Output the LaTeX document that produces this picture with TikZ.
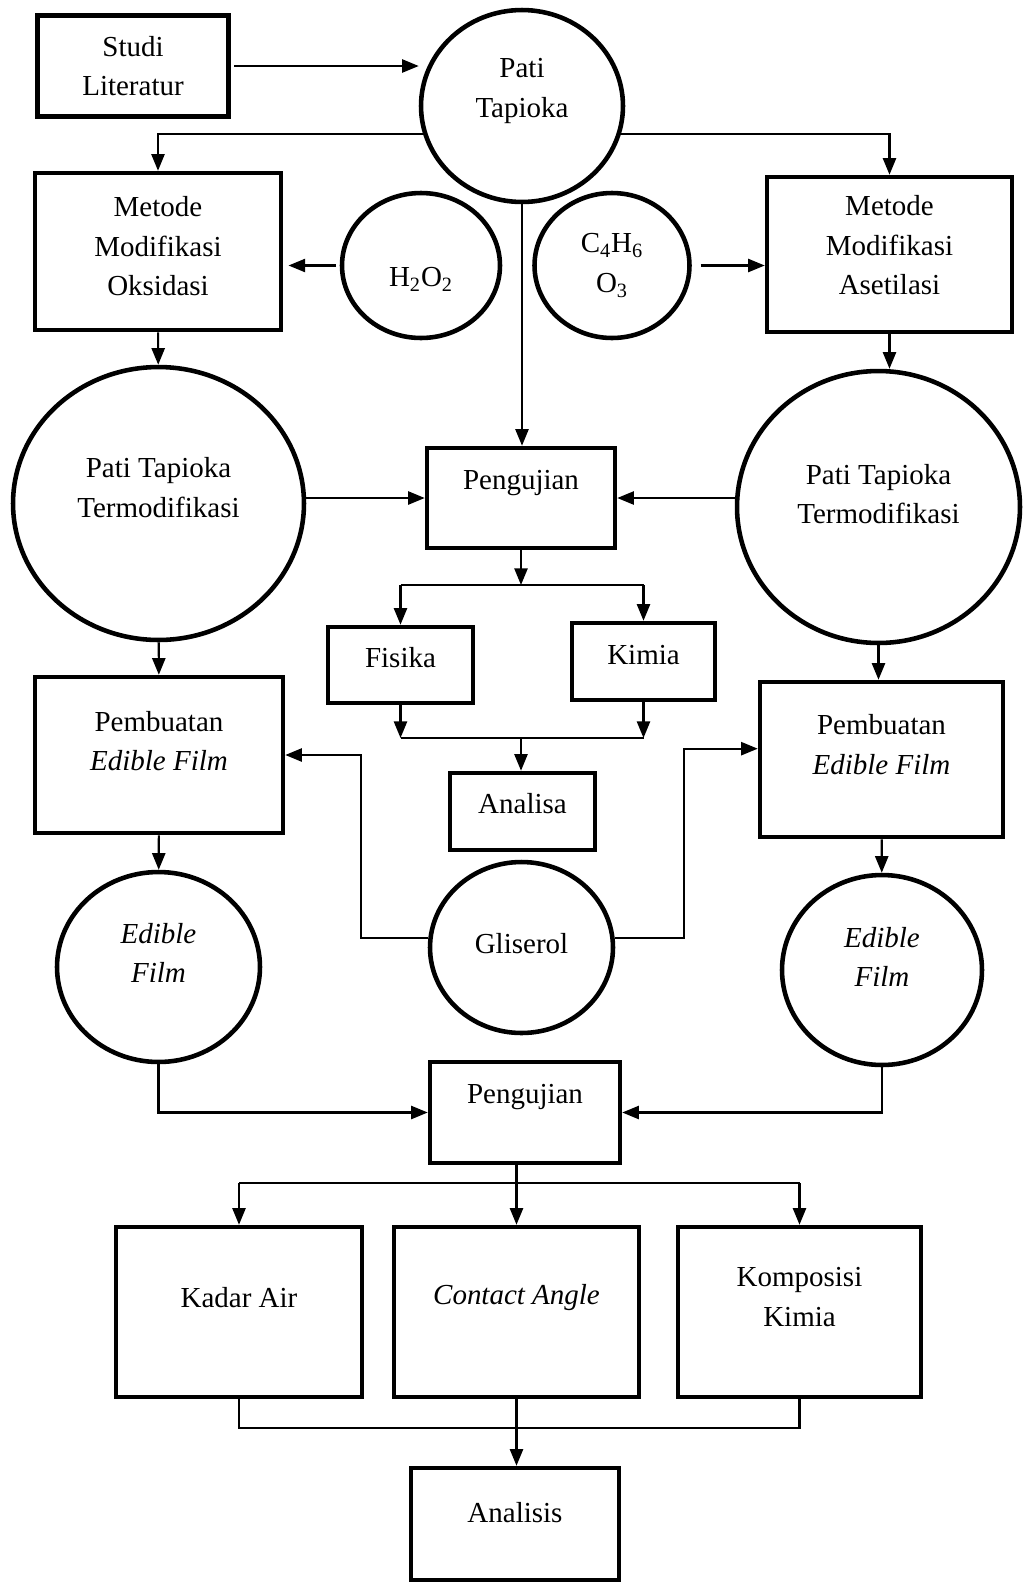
\documentclass[tikz,border=0pt]{standalone}
\usepackage{fontspec}
\setmainfont{Liberation Serif}
\usepackage{tikz}
\usetikzlibrary{positioning,calc,shapes.geometric,arrows.meta}
\tikzset{
	box/.style={draw, line width=2.6pt, inner sep=0pt},
	blob/.style={draw, ellipse, line width=2.6pt, inner sep=0pt},
	txt/.style={align=center, font=\fontsize{16.5}{22.5}\selectfont},
	lbl/.style 2 args={label={[txt,yshift=#1*0.02cm]center:#2}},
	arr/.style={line width=1.2pt, -{Triangle[length=9.5pt,width=7.5pt]}},
	ln/.style={line width=1.2pt},
}

\begin{document}
\begin{tikzpicture}[x=0.02cm,y=-0.02cm]
	\useasboundingbox (0,0) rectangle (1029,1583);
	\node[box, minimum width=3.82cm, minimum height=2.02cm, lbl={0}{Studi\\Literatur}] (studi) at (133,66) {};
	\node[blob, minimum width=4.04cm, minimum height=3.84cm, lbl={15}{Pati\\Tapioka}] (pati) at (522,106) {};
	\node[box, minimum width=4.92cm, minimum height=3.14cm, lbl={5}{Metode\\Modifikasi\\Oksidasi}] (oks) at (158,251.5) {};
	\node[blob, minimum width=3.16cm, minimum height=2.90cm, lbl={-14}{H\textsubscript{2}O\textsubscript{2}}] (h2o) at (421,265.5) {};
	\node[blob, minimum width=3.10cm, minimum height=2.90cm, lbl={0}{C\textsubscript{4}H\textsubscript{6}\\O\textsubscript{3}}] (c4h) at (612,265.5) {};
	\node[box, minimum width=4.90cm, minimum height=3.10cm, lbl={9}{Metode\\Modifikasi\\Asetilasi}] (ase) at (889.5,254.5) {};

	\node[blob, minimum width=5.82cm, minimum height=5.46cm, lbl={16}{Pati Tapioka\\Termodifikasi}] (tl) at (158.5,503.5) {};
	\node[box, minimum width=3.76cm, minimum height=2.00cm, lbl={15}{Pengujian}] (pg1) at (521,498) {};
	\node[blob, minimum width=5.66cm, minimum height=5.44cm, lbl={13}{Pati Tapioka\\Termodifikasi}] (tr) at (878.5,507) {};
	\node[box, minimum width=2.90cm, minimum height=1.52cm, lbl={7}{Fisika}] (fis) at (400.5,665) {};
	\node[box, minimum width=2.86cm, minimum height=1.54cm, lbl={6}{Kimia}] (kim) at (643.5,661.5) {};
	\node[box, minimum width=2.90cm, minimum height=1.54cm, lbl={8}{Analisa}] (ana1) at (522.5,811.5) {};

	\node[box, minimum width=4.96cm, minimum height=3.12cm, lbl={14}{Pembuatan\\\textit{Edible Film}}] (pl) at (159,755) {};
	\node[box, minimum width=4.86cm, minimum height=3.10cm, lbl={15}{Pembuatan\\\textit{Edible Film}}] (pr) at (881.5,759.5) {};
	\node[blob, minimum width=3.66cm, minimum height=3.42cm, lbl={4}{Gliserol}] (gli) at (521.5,947.5) {};
	\node[blob, minimum width=4.06cm, minimum height=3.80cm, lbl={14}{\textit{Edible}\\\textit{Film}}] (el) at (158.5,967) {};
	\node[blob, minimum width=4.00cm, minimum height=3.80cm, lbl={13}{\textit{Edible}\\\textit{Film}}] (er) at (882,970) {};
	\node[box, minimum width=3.80cm, minimum height=2.02cm, lbl={15}{Pengujian}] (pg2) at (525,1112.5) {};

	\node[box, minimum width=4.92cm, minimum height=3.40cm, lbl={14}{Kadar Air}] (ka) at (239,1312) {};
	\node[box, minimum width=4.90cm, minimum height=3.40cm, lbl={14}{\textit{Contact Angle}}] (ca) at (516.5,1312) {};
	\node[box, minimum width=4.86cm, minimum height=3.40cm, lbl={15}{Komposisi\\Kimia}] (kk) at (799.5,1312) {};
	\node[box, minimum width=4.16cm, minimum height=2.24cm, lbl={11}{Analisis}] (an2) at (515,1524) {};

	\coordinate (sp1) at (521,585);
	\coordinate (jn1) at (521,738);
	\coordinate (sp2) at (516,1183);
	\coordinate (jn2) at (516,1428);

	\draw[arr, shorten <=2pt] (studi.east) -- (studi.east -| pati.west);
	\draw[arr] (pati.196) -| (oks);
	\draw[arr] (pati.-16) -| (ase);
	\draw[arr, shorten <=2pt, shorten >=3pt] (h2o.west) -- (h2o.west -| oks.east);
	\draw[arr, shorten <=5pt] (c4h.east) -- (c4h.east -| ase.west);
	\draw[arr] (pati.south) -- (pati.south |- pg1.north);
	\draw[arr] (oks) -- (tl);
	\draw[arr] (ase.south) -- (ase.south |- tr.north);
	\draw[arr] (tl.east |- pg1) -- (pg1.west);
	\draw[arr] (tr.west |- pg1) -- (pg1.east);

	\draw[arr] (pg1) -- (sp1);
	\draw[ln] (sp1 -| fis) -- (sp1 -| kim);
	\draw[arr] (sp1 -| fis) -- (fis);
	\draw[arr] (sp1 -| kim) -- (kim);
	\draw[arr] (fis) -- (fis |- jn1);
	\draw[arr] (kim) -- (kim |- jn1);
	\draw[ln] (fis |- jn1) -- (kim |- jn1);
	\draw[arr] (jn1) -- (jn1 |- ana1.north);

	\draw[arr] (tl) -- (pl);
	\draw[arr] (tr.south) -- (tr.south |- pr.north);
	\draw[arr] (gli.174) -- ++(-67,0) |- (pl.east);
	\draw[arr] (gli.6) -- ++(69,0) |- (pr.175);
	\draw[arr] (pl) -- (el);
	\draw[arr] (pr) -- (er);
	\draw[arr] (el.south) |- (pg2.west);
	\draw[arr] (er.south) |- (pg2.east);

	\draw[arr] (pg2.south -| ca) -- (ca);
	\draw[ln] (sp2 -| ka) -- (sp2 -| kk);
	\draw[arr] (sp2 -| ka) -- (ka);
	\draw[arr] (sp2 -| kk) -- (kk);
	\draw[ln] (ka) -- (ka |- jn2) -- (kk |- jn2) -- (kk);
	\draw[arr] (ca) -- (ca |- an2.north);
\end{tikzpicture}
\end{document}
